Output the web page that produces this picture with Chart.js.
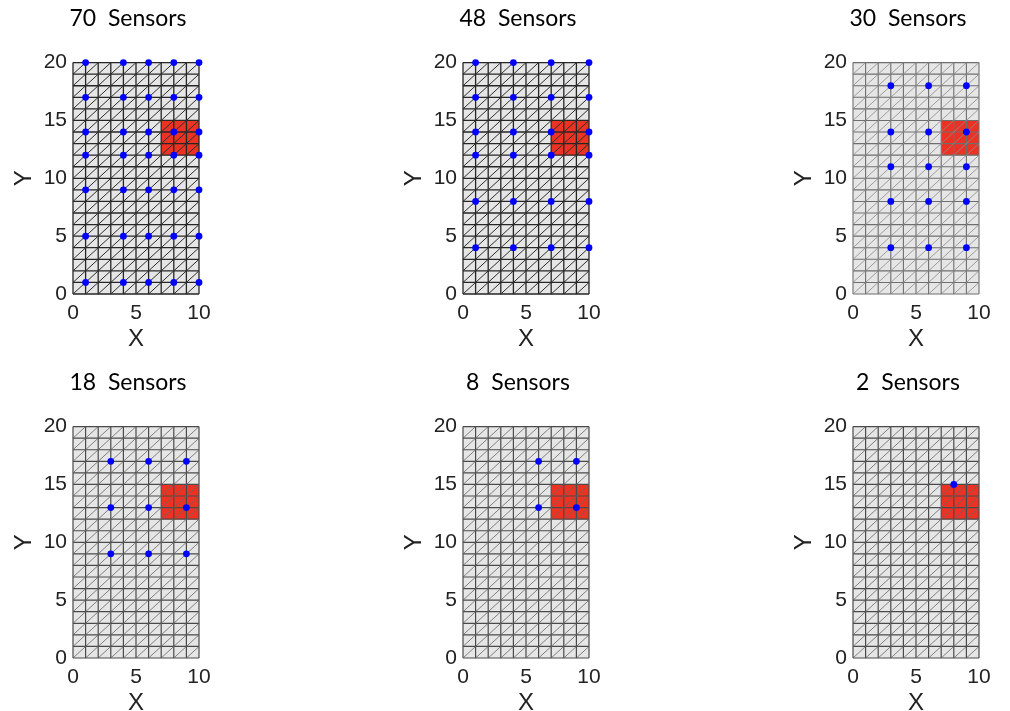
<!DOCTYPE html>
<html lang="en">
<head>
<meta charset="UTF-8">
<title>Sensors</title>
<script src="https://cdn.jsdelivr.net/npm/chart.js"></script>
<style>
    html, body { margin: 0; padding: 0; background: #fff; overflow: hidden; }
    #wrap { position: relative; width: 1010px; height: 711px; overflow: hidden; }
    #wrap canvas { position: absolute; }
</style>
</head>
<body>
<div id="wrap">
    <canvas id="c0" width="236" height="360" style="left:10px;top:0px"></canvas>
    <canvas id="c1" width="236" height="360" style="left:400px;top:0px"></canvas>
    <canvas id="c2" width="236" height="360" style="left:790px;top:0px"></canvas>
    <canvas id="c3" width="236" height="360" style="left:10px;top:364px"></canvas>
    <canvas id="c4" width="236" height="360" style="left:400px;top:364px"></canvas>
    <canvas id="c5" width="236" height="360" style="left:790px;top:364px"></canvas>
</div>

<script>
    // panel titles
    const titles = ['70  Sensors', '48  Sensors', '30  Sensors', '18  Sensors', '8  Sensors', '2  Sensors'];

    // mesh nodes (unit cells, each split by a diagonal)
    const gridX = [0, 1, 2, 3, 4, 5, 6, 7, 8, 9, 10];
    const gridY = [0, 1, 2, 3, 4, 5, 6, 7, 8, 9, 10, 11, 12, 13, 14, 15, 16, 17, 18, 19, 20];

    // red target region
    const hotX = [7, 10];
    const hotY = [12, 15];

    // sensor rows / columns for each panel
    const sensorX70 = [1, 4, 6, 8, 10];
    const sensorY70 = [1, 5, 9, 12, 14, 17, 20];
    const sensorX48 = [1, 4, 7, 10];
    const sensorY48 = [4, 8, 12, 14, 17, 20];
    const sensorX30 = [3, 6, 9];
    const sensorY30 = [4, 8, 11, 14, 18];
    const sensorX18 = [3, 6, 9];
    const sensorY18 = [9, 13, 17];
    const sensorX8 = [6, 9];
    const sensorY8 = [13, 17];
    const sensorX2 = [8];
    const sensorY2 = [15];

    const sensorXs = [sensorX70, sensorX48, sensorX30, sensorX18, sensorX8, sensorX2];
    const sensorYs = [sensorY70, sensorY48, sensorY30, sensorY18, sensorY8, sensorY2];

    const xTicks = [0, 5, 10];
    const yTicks = [0, 5, 10, 15, 20];

    // line styles per panel (top two are drawn darker)
    const edgeColors = ['#262626', '#262626', '#6e6e6e', '#4a4a4a', '#4a4a4a', '#4a4a4a'];
    const diagColors = ['#2e2e2e', '#2e2e2e', '#8a8a8a', '#646464', '#646464', '#646464'];
    const edgeWidths = [1.3, 1.3, 1.1, 1.2, 1.2, 1.2];
    const diagWidths = [1.0, 1.0, 0.8, 0.8, 0.8, 0.8];

    const GAP = {x: null, y: null};

    function buildMesh() {
        const xMin = gridX[0], xMax = gridX[gridX.length - 1];
        const yMin = gridY[0], yMax = gridY[gridY.length - 1];
        const vert = [], horiz = [], diag = [];
        gridX.forEach(x => vert.push({x: x, y: yMin}, {x: x, y: yMax}, GAP));
        gridY.forEach(y => horiz.push({x: xMin, y: y}, {x: xMax, y: y}, GAP));
        for (let i = 0; i < gridX.length - 1; i++) {
            for (let j = 0; j < gridY.length - 1; j++) {
                diag.push({x: gridX[i], y: gridY[j]}, {x: gridX[i + 1], y: gridY[j + 1]}, GAP);
            }
        }
        return {vert, horiz, diag, xMin, xMax, yMin, yMax};
    }

    function sensorPoints(xs, ys) {
        const pts = [];
        ys.forEach(y => xs.forEach(x => pts.push({x: x, y: y})));
        return pts;
    }

    const tickFont = {family: 'Liberation Sans', size: 21};
    const labelFont = {family: 'Liberation Sans', size: 24};
    const clear = 'rgba(0,0,0,0)';

    function makeChart(idx) {
        const mesh = buildMesh();
        const ctx = document.getElementById('c' + idx).getContext('2d');
        const lineBase = {showLine: true, pointRadius: 0, fill: false, clip: false, tension: 0};

        return new Chart(ctx, {
            type: 'scatter',
            data: {
                datasets: [
                    {
                        data: sensorPoints(sensorXs[idx], sensorYs[idx]),
                        pointStyle: 'circle',
                        pointRadius: 3.4,
                        backgroundColor: '#0000ff',
                        borderWidth: 0,
                        clip: false
                    },
                    Object.assign({data: mesh.diag, borderColor: diagColors[idx], borderWidth: diagWidths[idx]}, lineBase),
                    Object.assign({data: mesh.vert, borderColor: edgeColors[idx], borderWidth: edgeWidths[idx]}, lineBase),
                    Object.assign({data: mesh.horiz, borderColor: edgeColors[idx], borderWidth: edgeWidths[idx]}, lineBase),
                    // red region: top edge filled down to bottom edge
                    {
                        data: [{x: hotX[0], y: hotY[1]}, {x: hotX[1], y: hotY[1]}],
                        showLine: true, pointRadius: 0, borderWidth: 0, borderColor: clear,
                        backgroundColor: '#ec3323', fill: '+1'
                    },
                    {
                        data: [{x: hotX[0], y: hotY[0]}, {x: hotX[1], y: hotY[0]}],
                        showLine: true, pointRadius: 0, borderWidth: 0, borderColor: clear, fill: false
                    },
                    // mesh faces
                    {
                        data: [{x: mesh.xMin, y: mesh.yMax}, {x: mesh.xMax, y: mesh.yMax}],
                        showLine: true, pointRadius: 0, borderWidth: 0, borderColor: clear,
                        backgroundColor: '#e6e6e6', fill: '+1'
                    },
                    {
                        data: [{x: mesh.xMin, y: mesh.yMin}, {x: mesh.xMax, y: mesh.yMin}],
                        showLine: true, pointRadius: 0, borderWidth: 0, borderColor: clear, fill: false
                    }
                ]
            },
            options: {
                responsive: false,
                animation: false,
                events: [],
                layout: {padding: {top: 5, bottom: 6, left: 0, right: 0}},
                plugins: {
                    legend: {display: false},
                    tooltip: {enabled: false},
                    title: {
                        display: true,
                        text: titles[idx],
                        color: '#000',
                        font: {family: 'Lato', size: 23, weight: 'normal'},
                        padding: {top: 0, bottom: 30}
                    }
                },
                scales: {
                    x: {
                        type: 'linear',
                        min: 0,
                        max: 10,
                        grid: {display: false, drawTicks: false},
                        border: {display: false},
                        ticks: {font: tickFont, color: '#222', padding: 7, maxRotation: 0, autoSkip: false},
                        afterBuildTicks: s => { s.ticks = xTicks.map(v => ({value: v})); },
                        afterFit: s => { s.height = 60; },
                        title: {display: true, text: 'X', font: labelFont, color: '#222', padding: 0}
                    },
                    y: {
                        type: 'linear',
                        min: 0,
                        max: 20,
                        grid: {display: false, drawTicks: false},
                        border: {display: false},
                        ticks: {font: tickFont, color: '#222', padding: 6, autoSkip: false},
                        afterBuildTicks: s => { s.ticks = yTicks.map(v => ({value: v})); },
                        afterFit: s => { s.width = 63; },
                        title: {display: true, text: 'Y', font: labelFont, color: '#222', padding: 0}
                    },
                    // empty right gutter so the title sits a little left of the plot centre
                    yR: {
                        type: 'linear',
                        position: 'right',
                        min: 0,
                        max: 20,
                        grid: {display: false, drawTicks: false},
                        border: {display: false},
                        ticks: {display: false},
                        afterFit: s => { s.width = 47; }
                    }
                }
            }
        });
    }

    titles.forEach((t, i) => makeChart(i));
</script>
</body>
</html>
